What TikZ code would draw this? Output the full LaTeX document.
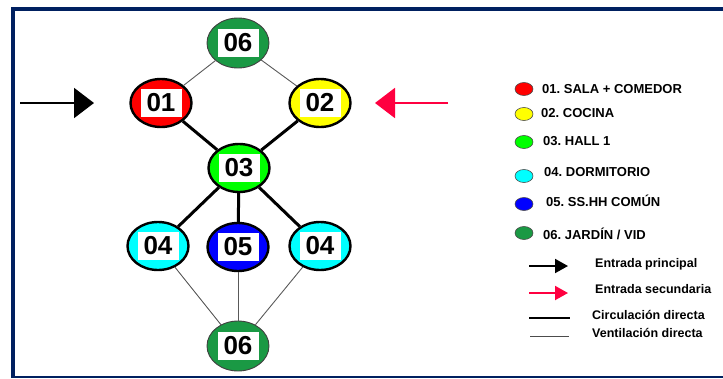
\documentclass[tikz,border=0pt]{standalone}
\usepackage{fontspec}
\setmainfont{Liberation Sans}
\frenchspacing
\usetikzlibrary{shapes.geometric,arrows.meta}
\definecolor{frameblue}{HTML}{002060}
\definecolor{salared}{HTML}{FF0000}
\definecolor{cocinayellow}{HTML}{FFFF00}
\definecolor{hallgreen}{HTML}{00FF00}
\definecolor{dormcyan}{HTML}{00FFFF}
\definecolor{banoblue}{HTML}{0000FF}
\definecolor{gardengreen}{HTML}{1A9944}
\definecolor{entryred}{HTML}{FF0040}
\tikzset{
  room/.style={ellipse, draw=black, line width=2.4pt, minimum width=61pt, minimum height=48pt, inner sep=0pt},
  garden/.style={ellipse, draw=black!75, line width=0.9pt, fill=gardengreen, minimum width=62pt, minimum height=50pt, inner sep=0pt},
  tag/.style={fill=white, minimum width=41pt, minimum height=28pt, inner sep=0pt, font=\fontsize{26}{26}\selectfont\bfseries},
  circ/.style={line width=3pt, black},
  vent/.style={line width=0.9pt, black!65},
  legdot/.style={ellipse, draw=black!70, line width=0.6pt, minimum width=18pt, minimum height=13pt, inner sep=0pt},
  legtext/.style={anchor=west, inner sep=0pt, font=\fontsize{13}{13}\selectfont\bfseries},
  legtextsm/.style={legtext, font=\fontsize{12.5}{12.5}\selectfont\bfseries},
  entry/.style={line width=2pt, -{Triangle[length=20pt,width=30pt]}},
  legentry/.style={line width=2pt, -{Triangle[length=13pt,width=14pt]}}
}
\begin{document}
\begin{tikzpicture}[x=1pt,y=-1pt]
\useasboundingbox (0,0) rectangle (723,378);
% frame
\fill[frameblue] (11,7) rectangle (723,11);
\fill[frameblue] (11,7) rectangle (15,378);
\fill[frameblue] (11,376) rectangle (723,378);

% rooms
\node[garden] (g1) at (238,43) {};
\node[room, fill=salared] (r1) at (161,103) {};
\node[room, fill=cocinayellow] (r2) at (320,103) {};
\node[room, fill=hallgreen] (r3) at (239,168) {};
\node[room, fill=dormcyan] (r4a) at (158,246) {};
\node[room, fill=banoblue] (r5) at (238,247) {};
\node[room, fill=dormcyan] (r4b) at (320,246) {};
\node[garden] (g2) at (238,346) {};

% connections
\draw[vent] (g1) -- (r1);
\draw[vent] (g1) -- (r2);
\draw[vent] (r4a) -- (g2);
\draw[vent] (r5) -- (g2);
\draw[vent] (r4b) -- (g2);
\draw[circ] (r1) -- (r3);
\draw[circ] (r2) -- (r3);
\draw[circ] (r3) -- (r4a);
\draw[circ] (r3) -- (r5);
\draw[circ] (r3) -- (r4b);

% labels
\node[tag] (t1) at (g1) {06};
\node[tag] (t2) at (r1) {01};
\node[tag] (t3) at (r2) {02};
\node[tag] (t4) at (r3) {03};
\node[tag] (t5) at (r4a) {04};
\node[tag] (t6) at (r5) {05};
\node[tag] (t7) at (r4b) {04};
\node[tag] (t8) at (g2) {06};

% entrances
\coordinate (ep) at (20,103);
\coordinate (ept) at (94,103);
\coordinate (es) at (448,103);
\coordinate (est) at (375,103);
\draw[entry, black] (ep) -- (ept);
\draw[entry, entryred] (es) -- (est);

% legend: rooms
\node[legdot, fill=salared] (l1) at (524,89) {};
\node[legtext] (lt1) at (542,89) {01. SALA + COMEDOR};
\node[legdot, fill=cocinayellow] (l2) at (524,114) {};
\node[legtext] (lt2) at (541,113) {02. COCINA};
\node[legdot, fill=hallgreen] (l3) at (524,142) {};
\node[legtext] (lt3) at (543,141) {03. HALL 1};
\node[legdot, fill=dormcyan] (l4) at (524,176) {};
\node[legtext] (lt4) at (544,172) {04. DORMITORIO};
\node[legdot, fill=banoblue] (l5) at (524,204) {};
\node[legtext] (lt5) at (546,201) {05. SS.HH COMÚN};
\node[legdot, fill=gardengreen] (l6) at (524,233) {};
\node[legtext] (lt6) at (543,234) {06. JARDÍN / VID};

% legend: lines
\coordinate (a1) at (529,266); \coordinate (b1) at (568,266);
\coordinate (a2) at (529,293); \coordinate (b2) at (568,293);
\coordinate (a3) at (529,318); \coordinate (b3) at (570,318);
\coordinate (a4) at (530,336); \coordinate (b4) at (569,336);
\draw[legentry, black] (a1) -- (b1);
\draw[legentry, entryred] (a2) -- (b2);
\draw[line width=2.6pt, black] (a3) -- (b3);
\draw[line width=0.7pt, black!70] (a4) -- (b4);
\node[legtextsm] (lt7) at (595,264) {Entrada principal};
\node[legtextsm] (lt8) at (595,289) {Entrada secundaria};
\node[legtextsm] (lt9) at (592,315) {Circulación directa};
\node[legtextsm] (lt10) at (592,333) {Ventilación directa};
\end{tikzpicture}
\end{document}
